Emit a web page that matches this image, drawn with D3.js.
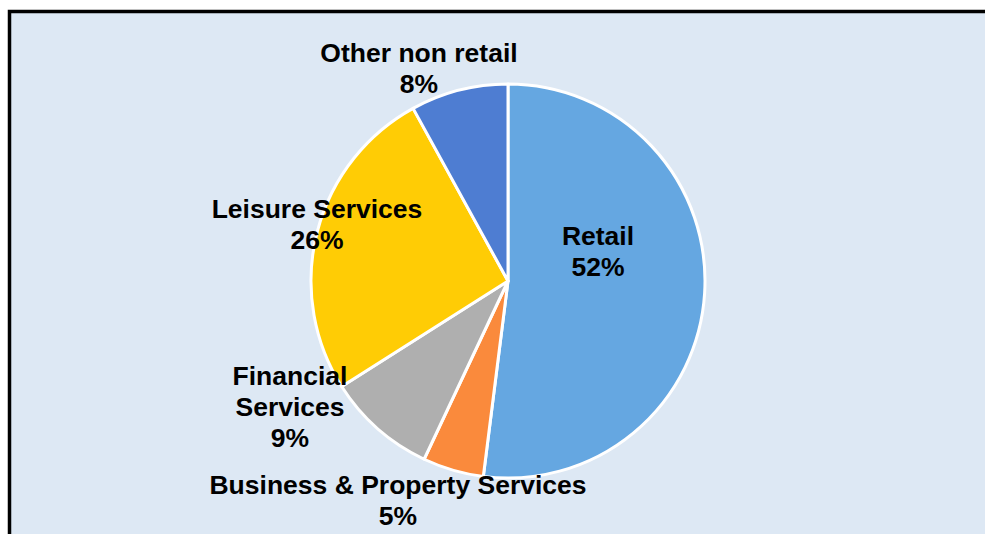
<!DOCTYPE html>
<html>
<head>
<meta charset="utf-8">
<script src="https://cdn.jsdelivr.net/npm/d3@7"></script>
<style>
  body { margin: 0; background: #fff; }
  text { font-family: "Liberation Sans", Arial, sans-serif; font-weight: bold; fill: #000; }
</style>
</head>
<body>
<div id="chart"></div>
<script>
var svgWidth = 985;
var svgHeight = 534;

// chart data (clockwise from 12 o'clock)
var categories = ["Retail", "Business & Property Services", "Financial Services", "Leisure Services", "Other non retail"];
var shares = [52, 5, 9, 26, 8];
var colors = ["#65a7e1", "#fa8a3c", "#afafaf", "#ffcc05", "#4e7dd2"];

// label layout: line breaks and position (centre x, first baseline)
var labelLines = [["Retail"], ["Business & Property Services"], ["Financial", "Services"], ["Leisure Services"], ["Other non retail"]];
var labelPos = [[598, 245], [398, 494], [290, 385], [317, 218], [419, 62]];

var cx = 508, cy = 281, radius = 197;
var lineHeight = 31;

var svg = d3.select("#chart")
  .append("svg")
  .attr("width", svgWidth)
  .attr("height", svgHeight);

// chart area with the frame (bottom edge runs off the picture)
svg.append("rect")
  .attr("x", 9.5)
  .attr("y", 11.5)
  .attr("width", 1100)
  .attr("height", 700)
  .attr("fill", "#dde8f4")
  .attr("stroke", "#000")
  .attr("stroke-width", 3.5);

var pie = d3.pie().sort(null).value(d => d);
var arc = d3.arc().innerRadius(0).outerRadius(radius);

var pieGroup = svg.append("g")
  .attr("transform", `translate(${cx}, ${cy})`);

pieGroup.selectAll("path")
  .data(pie(shares))
  .enter()
  .append("path")
  .attr("d", arc)
  .attr("fill", (d, i) => colors[i])
  .attr("stroke", "#fff")
  .attr("stroke-width", 3)
  .attr("stroke-linejoin", "round");

// data labels
categories.forEach(function(cat, i) {
  var lines = labelLines[i].concat([shares[i] + "%"]);
  var t = svg.append("text")
    .attr("text-anchor", "middle")
    .attr("font-size", "26.5px");
  lines.forEach(function(line, j) {
    t.append("tspan")
      .attr("x", labelPos[i][0])
      .attr("y", labelPos[i][1] + j * lineHeight)
      .text(line);
  });
});
</script>
</body>
</html>
